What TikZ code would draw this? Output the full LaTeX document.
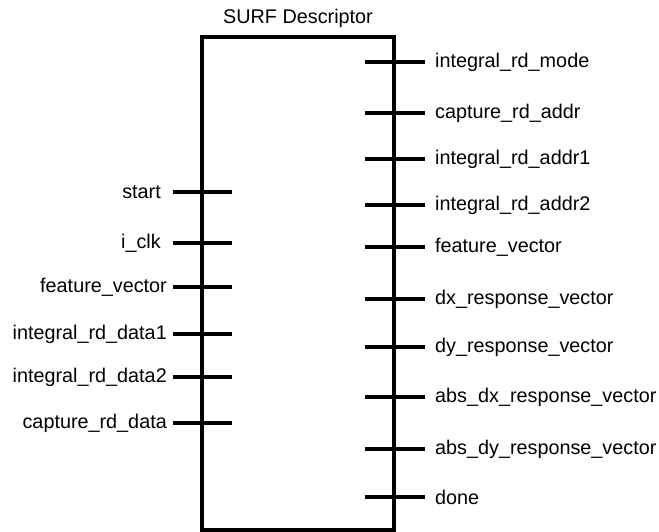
\documentclass[tikz,border=0pt]{standalone}
\usepackage{fontspec}
\setmainfont{Liberation Sans}
\begin{document}
\begin{tikzpicture}[x=1pt,y=-1pt,
  every node/.style={font=\fontsize{19.8}{22}\selectfont, inner sep=0pt},
  blockbox/.style={draw, line width=4pt, line join=miter, minimum width=192pt, minimum height=493pt},
  pinline/.style={line width=3.6pt},
  leftlab/.style={anchor=east},
  rightlab/.style={anchor=west}]
\useasboundingbox (0,0) rectangle (659,532);
\node[blockbox] (blk) at (298,283.5) {};
\node (title) at (298,18) {SURF Descriptor};
% left pins
\foreach \y/\t/\n/\xe in {192/start/la/161, 243/i\_clk/lb/161, 287/feature\_vector/lc/167,
  334/integral\_rd\_data1/ld/167, 377/integral\_rd\_data2/le/167, 423/capture\_rd\_data/lf/167}{
  \coordinate (\n s) at (173,\y);
  \coordinate (\n e) at (232,\y);
  \draw[pinline] (\n s) -- (\n e);
  \node[leftlab] (\n t) at (\xe,\y) {\t};
}
% right pins
\foreach \y/\t/\n in {62/integral\_rd\_mode/ra, 113/capture\_rd\_addr/rb, 159/integral\_rd\_addr1/rc,
  205/integral\_rd\_addr2/rd, 247/feature\_vector/re, 299/dx\_response\_vector/rf,
  347/dy\_response\_vector/rg, 397/abs\_dx\_response\_vector/rh, 449/abs\_dy\_response\_vector/ri, 497/done/rj}{
  \coordinate (\n s) at (365,\y);
  \coordinate (\n e) at (425,\y);
  \draw[pinline] (\n s) -- (\n e);
  \node[rightlab] (\n t) at (435,\y) {\t};
}
\end{tikzpicture}
\end{document}
